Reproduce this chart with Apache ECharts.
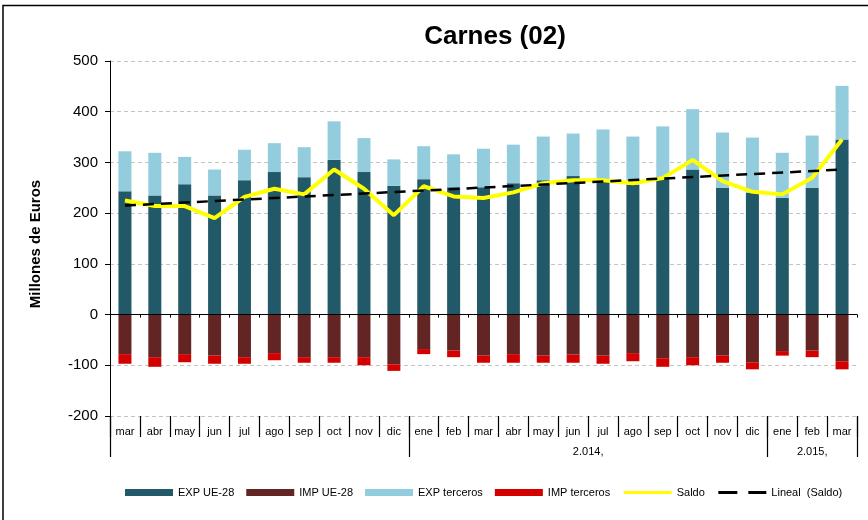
<!DOCTYPE html>
<html>
<head>
<meta charset="utf-8">
<title>Carnes (02)</title>
<script src="https://cdn.jsdelivr.net/npm/echarts@6/dist/echarts.min.js"></script>
<style>
  html, body { margin: 0; padding: 0; background: #ffffff; }
  #chart { width: 868px; height: 520px; }
</style>
</head>
<body>
<div id="chart"></div>
<script>
// meses mar 2013 - mar 2015
const months = ["mar", "abr", "may", "jun", "jul", "ago", "sep", "oct", "nov", "dic",
  "ene", "feb", "mar", "abr", "may", "jun", "jul", "ago", "sep", "oct", "nov", "dic",
  "ene", "feb", "mar"];
// grupos de años (etiqueta, primer mes, nº de meses)
const yearGroups = [
  { label: "", start: 0, count: 10 },
  { label: "2.014,", start: 10, count: 12 },
  { label: "2.015,", start: 22, count: 3 }
];

const expUE = [243, 235, 257, 235, 265, 281, 271, 305, 281, 254, 267, 251,
  251, 259, 265, 273, 264, 256, 268, 286, 250, 240, 230, 250, 345];
const expTerceros = [79, 84, 54, 51, 60, 57, 59, 76, 67, 52, 65, 65,
  76, 76, 86, 84, 101, 95, 103, 119, 109, 109, 89, 103, 106];
const impUE = [-78, -84, -78, -81, -84, -76, -84, -84, -84, -98, -68, -71,
  -81, -78, -81, -79, -81, -76, -86, -84, -81, -94, -72, -71, -92];
const impTerceros = [-19, -19, -16, -16, -13, -14, -11, -11, -16, -13, -10, -13,
  -14, -17, -14, -16, -16, -16, -17, -16, -14, -14, -9, -13, -16];
const saldo = [225, 214, 214, 190, 232, 248, 237, 286, 248, 196, 253, 233,
  230, 241, 259, 265, 265, 259, 269, 305, 263, 242, 237, 270, 345];
// tendencia lineal del saldo: valor al inicio y al final
const lineal = [215, 286];

const yTicks = { min: -200, max: 500, interval: 100 };

const FONT = "Liberation Sans";

// etiquetas de la fila de años
const yearTicks = yearGroups.map(function (g) { return g.start; });
const yearData = months.map(function () { return ""; });
yearGroups.forEach(function (g) {
  if (!g.label) return;
  const mid = g.start + Math.floor((g.count - 1) / 2);
  // grupo par: la etiqueta va en el borde entre dos meses
  yearData[mid] = g.count % 2 === 0 ? "{half|" + g.label + "}" : g.label;
});

const chart = echarts.init(document.getElementById("chart"));
chart.setOption({
  animation: false,
  textStyle: { fontFamily: FONT },
  title: {
    text: "Carnes (02)",
    left: 490,
    top: 19,
    textAlign: "center",
    textStyle: { fontFamily: FONT, fontSize: 26, fontWeight: "bold", color: "#000" }
  },
  graphic: [
    {
      type: "rect",
      shape: { x: 3, y: 5.5, width: 1000, height: 1000 },
      style: { fill: null, stroke: "#000", lineWidth: 1.5 },
      silent: true
    }
  ],
  legend: {
    left: 125,
    top: 487,
    padding: 0,
    itemWidth: 48,
    itemHeight: 7,
    itemGap: 12,
    textStyle: { fontFamily: FONT, fontSize: 11, color: "#000" },
    data: [
      { name: "EXP UE-28", icon: "rect" },
      { name: "IMP UE-28", icon: "rect" },
      { name: "EXP terceros", icon: "rect" },
      { name: "IMP terceros", icon: "rect" },
      { name: "Saldo", itemStyle: { opacity: 0 }, lineStyle: { width: 3 } },
      { name: "Lineal  (Saldo)", itemStyle: { opacity: 0 }, lineStyle: { width: 3, type: [19, 11] } }
    ]
  },
  grid: { left: 110, right: 11, top: 61, bottom: 104 },
  xAxis: [
    {
      // eje en el cero
      type: "category",
      data: months,
      position: "bottom",
      z: 5,
      axisLine: { onZero: true, lineStyle: { color: "#000", width: 1 } },
      axisTick: { show: true, interval: 0, length: 3, lineStyle: { color: "#000" } },
      axisLabel: { show: false },
      splitLine: { show: false }
    },
    {
      // fila de meses
      type: "category",
      data: months,
      position: "bottom",
      axisLine: { show: false, onZero: false },
      axisTick: { show: true, interval: 0, length: 21, lineStyle: { color: "#000", width: 1.2 } },
      axisLabel: { interval: 0, margin: 10, fontFamily: FONT, fontSize: 11, color: "#000" }
    },
    {
      // fila de años
      type: "category",
      data: yearData,
      position: "bottom",
      axisLine: { show: false, onZero: false },
      axisTick: {
        show: true,
        length: 41,
        interval: function (i) { return yearTicks.indexOf(i) >= 0; },
        lineStyle: { color: "#000", width: 1.2 }
      },
      axisLabel: {
        interval: 0,
        margin: 30,
        fontFamily: FONT,
        fontSize: 11,
        color: "#000",
        rich: { half: { fontFamily: FONT, fontSize: 11, color: "#000", padding: [0, 0, 0, 30] } }
      }
    }
  ],
  yAxis: {
    type: "value",
    min: yTicks.min,
    max: yTicks.max,
    interval: yTicks.interval,
    name: "Millones de Euros",
    nameLocation: "middle",
    nameGap: 67,
    nameTextStyle: { fontFamily: FONT, fontSize: 15, fontWeight: "bold", color: "#000", padding: [0, 11, 0, 0] },
    axisLine: { show: true, lineStyle: { color: "#000", width: 1 } },
    axisTick: { show: true, length: 5, lineStyle: { color: "#000" } },
    axisLabel: { margin: 12, fontFamily: FONT, fontSize: 15, color: "#000" },
    splitLine: { show: true, lineStyle: { color: "#c4c4c4", type: [4, 3], width: 1 } }
  },
  series: [
    {
      name: "EXP UE-28",
      type: "bar",
      stack: "total",
      barWidth: 13,
      itemStyle: { color: "#215968" },
      data: expUE
    },
    {
      name: "IMP UE-28",
      type: "bar",
      stack: "total",
      barWidth: 13,
      itemStyle: { color: "#632523" },
      data: impUE
    },
    {
      name: "EXP terceros",
      type: "bar",
      stack: "total",
      barWidth: 13,
      itemStyle: { color: "#93cddd" },
      data: expTerceros
    },
    {
      name: "IMP terceros",
      type: "bar",
      stack: "total",
      barWidth: 13,
      itemStyle: { color: "#d20000" },
      data: impTerceros
    },
    {
      name: "Saldo",
      type: "line",
      symbol: "none",
      z: 6,
      lineStyle: { color: "#ffff00", width: 4 },
      itemStyle: { color: "#ffff00" },
      data: saldo
    },
    {
      name: "Lineal  (Saldo)",
      type: "line",
      symbol: "none",
      z: 7,
      lineStyle: { color: "#000", width: 2.5, type: [11, 7] },
      itemStyle: { color: "#000" },
      data: [[0, lineal[0]], [months.length - 1, lineal[1]]]
    }
  ]
});
</script>
</body>
</html>
